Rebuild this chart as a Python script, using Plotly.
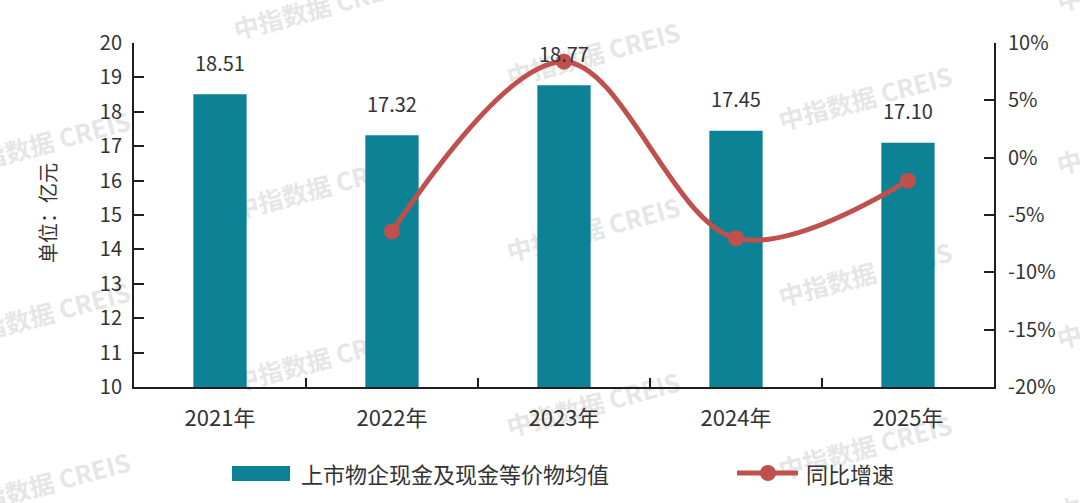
import plotly.graph_objects as go

# ---------------- data ----------------
categories = ["2021年", "2022年", "2023年", "2024年", "2025年"]
cash_avg = [18.51, 17.32, 18.77, 17.45, 17.10]           # 亿元
yoy_growth = [None, -0.0643, 0.0837, -0.0703, -0.0201]    # 同比增速
bar_name = "上市物企现金及现金等价物均值"
line_name = "同比增速"
y_title = "单位：亿元"
left_tickvals = [10, 11, 12, 13, 14, 15, 16, 17, 18, 19, 20]
right_tickvals = [-0.20, -0.15, -0.10, -0.05, 0.0, 0.05, 0.10]
right_ticktext = ["-20%", "-15%", "-10%", "-5%", "0%", "5%", "10%"]
watermark_text = "中指数据 CREIS"

# ---------------- styles ----------------
W, H = 1080, 503
ML, MR, MT, MB = 134, 86, 43, 116
PW, PH = W - ML - MR, H - MT - MB
TEAL = "#0E8295"
RED = "#C0504D"
AXIS = "#1f1f1f"
TXT = "#333333"
FONT = "Noto Sans CJK SC, Noto Sans, sans-serif"


def px(x):
    return (x - ML) / PW


def py(y):
    return 1 - (y - MT) / PH


fig = go.Figure()
fig.add_trace(go.Bar(
    x=categories, y=cash_avg, name=bar_name, width=0.31,
    marker=dict(color=TEAL, line=dict(width=0)), yaxis="y",
    showlegend=False,
))
fig.add_trace(go.Scatter(
    x=categories, y=yoy_growth, name=line_name, yaxis="y2",
    mode="lines+markers", line=dict(color=RED, width=5, shape="spline", smoothing=1),
    marker=dict(color=RED, size=16), showlegend=False,
))

annotations = []
# value labels above bars
for c, v in zip(categories, cash_avg):
    annotations.append(dict(
        x=c, y=v, xref="x", yref="y", text=f"{v:.2f}", showarrow=False,
        yanchor="middle", yshift=32, font=dict(size=20, color=TXT, family=FONT),
    ))
# y axis title
annotations.append(dict(
    x=px(47), y=py(213), xref="paper", yref="paper", text=y_title, textangle=-90,
    showarrow=False, xanchor="center", yanchor="middle",
    font=dict(size=20, color=TXT, family=FONT),
))
# legend texts
annotations.append(dict(
    x=px(299), y=py(473), xref="paper", yref="paper", text=bar_name, showarrow=False,
    xanchor="left", yanchor="middle", font=dict(size=22, color=TXT, family=FONT),
))
annotations.append(dict(
    x=px(804), y=py(473), xref="paper", yref="paper", text=line_name, showarrow=False,
    xanchor="left", yanchor="middle", font=dict(size=22, color=TXT, family=FONT),
))

shapes = []
# watermarks (behind the traces)
wm_centers = [
    (44, -26), (44, 146), (44, 317), (44, 487),
    (321, 10), (321, 190), (321, 362),
    (594, 57), (594, 232), (594, 407),
    (866, 101), (866, 277), (866, 450),
    (1144, -18), (1144, 145), (1144, 319), (1144, 492),
]
for cx, cy in wm_centers:
    shapes.append(dict(
        type="rect", xref="paper", yref="paper", layer="below",
        x0=px(cx - 1), x1=px(cx + 1), y0=py(cy + 1), y1=py(cy - 1),
        line=dict(width=0), fillcolor="rgba(0,0,0,0)",
        label=dict(text=watermark_text, textangle=-15, textposition="middle center",
                   font=dict(size=25, color="#e6e6e6", family=FONT, weight="bold")),
    ))
# legend symbols
shapes.append(dict(type="rect", xref="paper", yref="paper", layer="above",
                   x0=px(232), x1=px(290), y0=py(481), y1=py(466),
                   line=dict(width=0), fillcolor=TEAL))
shapes.append(dict(type="line", xref="paper", yref="paper", layer="above",
                   x0=px(737), x1=px(798), y0=py(473), y1=py(473),
                   line=dict(width=5, color=RED)))
shapes.append(dict(type="circle", xref="paper", yref="paper", layer="above",
                   x0=px(760), x1=px(776), y0=py(481), y1=py(465),
                   line=dict(width=0), fillcolor=RED))

fig.update_layout(
    width=W, height=H, autosize=False,
    margin=dict(l=ML, r=MR, t=MT, b=MB, pad=0),
    paper_bgcolor="white", plot_bgcolor="rgba(0,0,0,0)",
    font=dict(family=FONT, color=TXT, size=20),
    showlegend=False,
    xaxis=dict(
        range=[-0.5, 4.5], showline=True, linecolor=AXIS, linewidth=2,
        ticks="inside", tickson="boundaries", ticklen=9, tickwidth=2, tickcolor=AXIS,
        tickfont=dict(size=22, color=TXT), ticklabelstandoff=11, showgrid=False,
        zeroline=False,
    ),
    yaxis=dict(
        range=[10, 20], tickvals=left_tickvals, showline=True, linecolor=AXIS,
        linewidth=2, ticks="inside", ticklen=10, tickwidth=2, tickcolor=AXIS,
        tickfont=dict(size=20, color=TXT), showgrid=False, zeroline=False,
        ticklabelstandoff=6,
    ),
    yaxis2=dict(
        range=[-0.20, 0.10], tickvals=right_tickvals, ticktext=right_ticktext,
        overlaying="y", side="right", showline=True, linecolor=AXIS, linewidth=2,
        ticks="inside", ticklen=10, tickwidth=2, tickcolor=AXIS,
        tickfont=dict(size=20, color=TXT), showgrid=False, zeroline=False,
        ticklabelstandoff=8,
    ),
    annotations=annotations,
    shapes=shapes,
)

fig.write_html("out.html")
